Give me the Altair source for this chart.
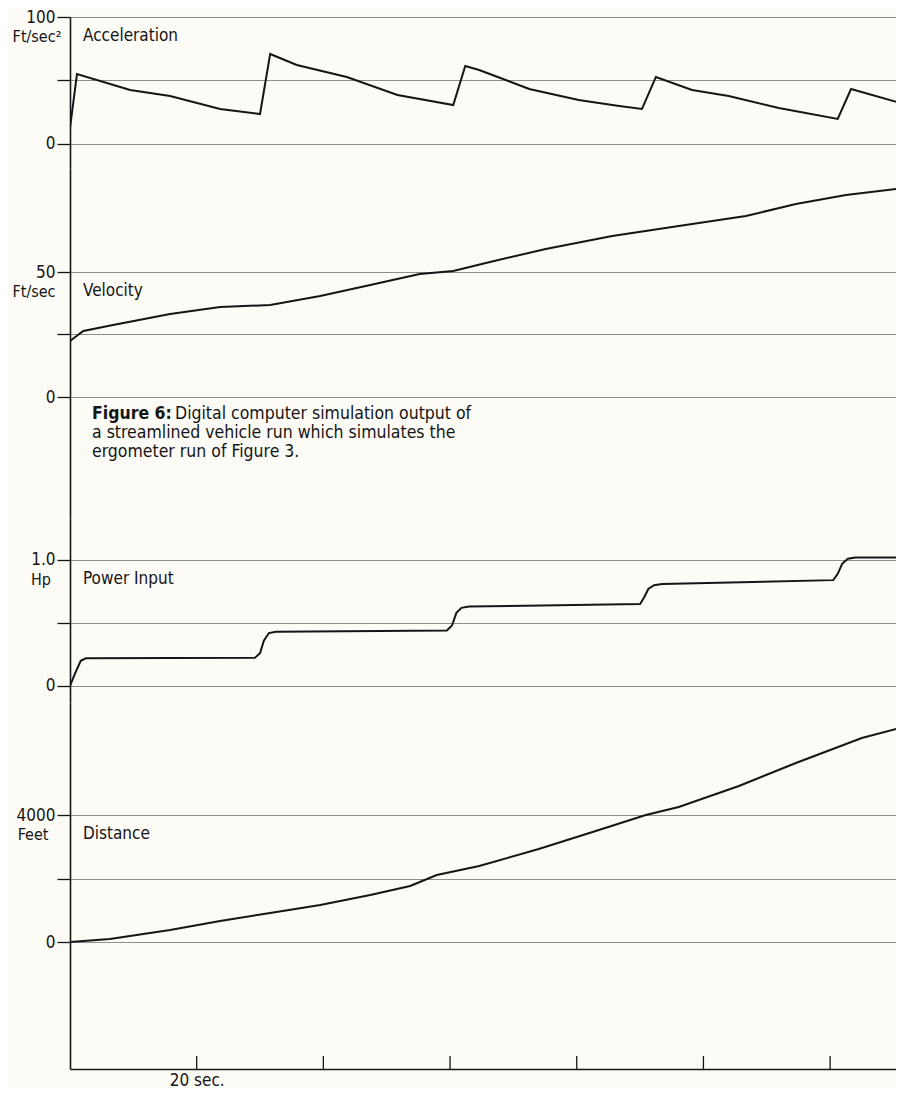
import altair as alt
import pandas as pd

FONT = "DejaVu Sans Condensed, Liberation Sans, Arial, sans-serif"
BG = "#fcfbf6"
INK = "#151515"
GRID = "#8e8e8e"

# time axis (sec)
x_domain = [0, 130.4]
x_ticks = [20, 40, 60, 80, 100, 120]

# Acceleration (Ft/sec^2)
acc_t = [0, 1.1, 9.5, 15.8, 23.7, 30.0, 31.6, 35.8, 43.7, 51.7, 60.5, 62.4, 64.6,
         72.5, 80.3, 86.7, 90.3, 92.5, 98.2, 104.0, 111.9, 121.2, 123.3, 131.6]
acc_v = [12.6, 55.1, 42.5, 37.8, 27.6, 23.6, 70.9, 62.2, 52.8, 38.6, 30.7, 61.4, 58.3,
         43.3, 34.6, 29.9, 27.6, 52.8, 42.5, 37.8, 28.3, 19.7, 43.3, 31.5]

# Velocity (Ft/sec)
vel_t = [0, 2.1, 6.8, 15.8, 23.7, 31.6, 39.5, 47.4, 55.2, 60.5, 66.3, 75.1, 85.6,
         96.1, 106.7, 114.6, 122.5, 131.6]
vel_v = [22.4, 26.4, 28.8, 33.2, 36.0, 36.8, 40.4, 44.8, 49.2, 50.4, 54.0, 59.2, 64.4,
         68.4, 72.4, 77.2, 80.8, 83.6]

# Power input (Hp)
pow_t = [0, 0.8, 1.7, 2.5, 29.2, 30.0, 30.6, 31.4, 32.5, 59.5, 60.3, 61.0, 61.8, 63.0,
         90.0, 90.6, 91.3, 92.2, 93.5, 120.5, 121.2, 121.9, 122.8, 124.0, 131.6]
pow_v = [0.0, 0.1, 0.2, 0.22, 0.225, 0.26, 0.36, 0.42, 0.43, 0.44, 0.48, 0.58, 0.62, 0.63,
         0.65, 0.70, 0.77, 0.80, 0.81, 0.84, 0.89, 0.97, 1.01, 1.02, 1.02]

# Distance (Feet)
dist_t = [0, 6.3, 15.8, 23.7, 31.6, 39.5, 47.4, 53.7, 57.9, 64.6, 74.0, 83.0, 90.9,
          96.1, 105.6, 114.6, 125.0, 131.6]
dist_v = [0, 94, 378, 661, 913, 1165, 1480, 1764, 2110, 2394, 2929, 3496, 4000,
          4252, 4913, 5638, 6425, 6772]

caption_bold = "Figure 6:"
caption_lines = ["Digital computer simulation output of",
                 "a streamlined vehicle run which simulates the",
                 "ergometer run of Figure 3."]

W = 826
FS = 17
CFS = 17.5


def text_layer(s, x, y, **kw):
    base = dict(font=FONT, fontSize=FS, color=INK, align="left", baseline="middle")
    base.update(kw)
    return alt.Chart(pd.DataFrame({"s": [s]})).mark_text(**base).encode(
        x=alt.value(x), y=y, text="s:N")


def make_panel(t, v, domain, ticks, tick_labels, name, unit, unit_dx, h,
               bottom=False, extra=None):
    df = pd.DataFrame({"t": t, "v": v})
    expr = " : ".join(f"datum.value == {tv} ? '{tl}'" for tv, tl in zip(ticks, tick_labels)) + " : ''"
    yaxis = alt.Axis(values=ticks, labelExpr=expr, grid=True, gridColor=GRID, gridWidth=1.2,
                     title=None, tickSize=13, tickColor=INK, tickWidth=1.3,
                     domainColor=INK, domainWidth=1.6, labelFont=FONT, labelFontSize=FS,
                     labelColor=INK, labelPadding=2)
    if bottom:
        xaxis = alt.Axis(values=[20], labelExpr="'20 sec.'", ticks=False, grid=False,
                         title=None, domainColor=INK, domainWidth=1.6, labelFont=FONT,
                         labelFontSize=FS, labelColor=INK, labelPadding=3, labelFlush=False)
    else:
        xaxis = None
    xs = alt.Scale(domain=x_domain, nice=False, zero=False)
    x = alt.X("t:Q", scale=xs, axis=xaxis)
    y = alt.Y("v:Q", scale=alt.Scale(domain=domain, nice=False, zero=False), axis=yaxis)
    line = alt.Chart(df).mark_line(color=INK, strokeWidth=2, clip=True).encode(x=x, y=y)
    top = ticks[-1]
    layers = [
        line,
        text_layer(name, 13, alt.datum(top), dy=19),
        text_layer(unit, unit_dx, alt.datum(top), dy=20, align="center", fontSize=FS - 1),
    ]
    if bottom:
        tk = alt.Chart(pd.DataFrame({"t": x_ticks})).mark_rule(color=INK, strokeWidth=1.3).encode(
            x=alt.X("t:Q", scale=xs, axis=xaxis), y=alt.value(h - 13), y2=alt.value(h))
        layers.append(tk)
    if extra:
        layers += extra
    return alt.layer(*layers).properties(width=W, height=h)


cap = [
    text_layer(caption_bold, 22, alt.value(246), fontWeight="bold", fontSize=CFS),
    text_layer(caption_lines[0], 105, alt.value(246), fontSize=CFS),
    text_layer(caption_lines[1], 22, alt.value(265), fontSize=CFS),
    text_layer(caption_lines[2], 22, alt.value(284), fontSize=CFS),
]

pA = make_panel(acc_t, acc_v, [-18.9, 100], [0, 50, 100], ["0", "", "100"],
                "Acceleration", "Ft/sec²", -33, 151)
pV = make_panel(vel_t, vel_v, [-48.4, 91.6], [0, 25, 50], ["0", "", "50"],
                "Velocity", "Ft/sec", -36, 350, extra=cap)
pP = make_panel(pow_t, pow_v, [-0.135, 1.333], [0, 0.5, 1], ["0", "", "1.0"],
                "Power Input", "Hp", -29, 185)
pD = make_panel(dist_t, dist_v, [-4000, 7528], [0, 2000, 4000], ["0", "", "4000"],
                "Distance", "Feet", -37, 366, bottom=True)

chart = alt.vconcat(pA, pV, pP, pD, spacing=0, bounds="flush").resolve_scale(
    y="independent"
).properties(
    background=BG, padding={"left": 4, "top": 0, "right": 0, "bottom": 0}
).configure_view(strokeWidth=0)

chart.save("out.html", embed_options={"renderer": "svg", "actions": False})
